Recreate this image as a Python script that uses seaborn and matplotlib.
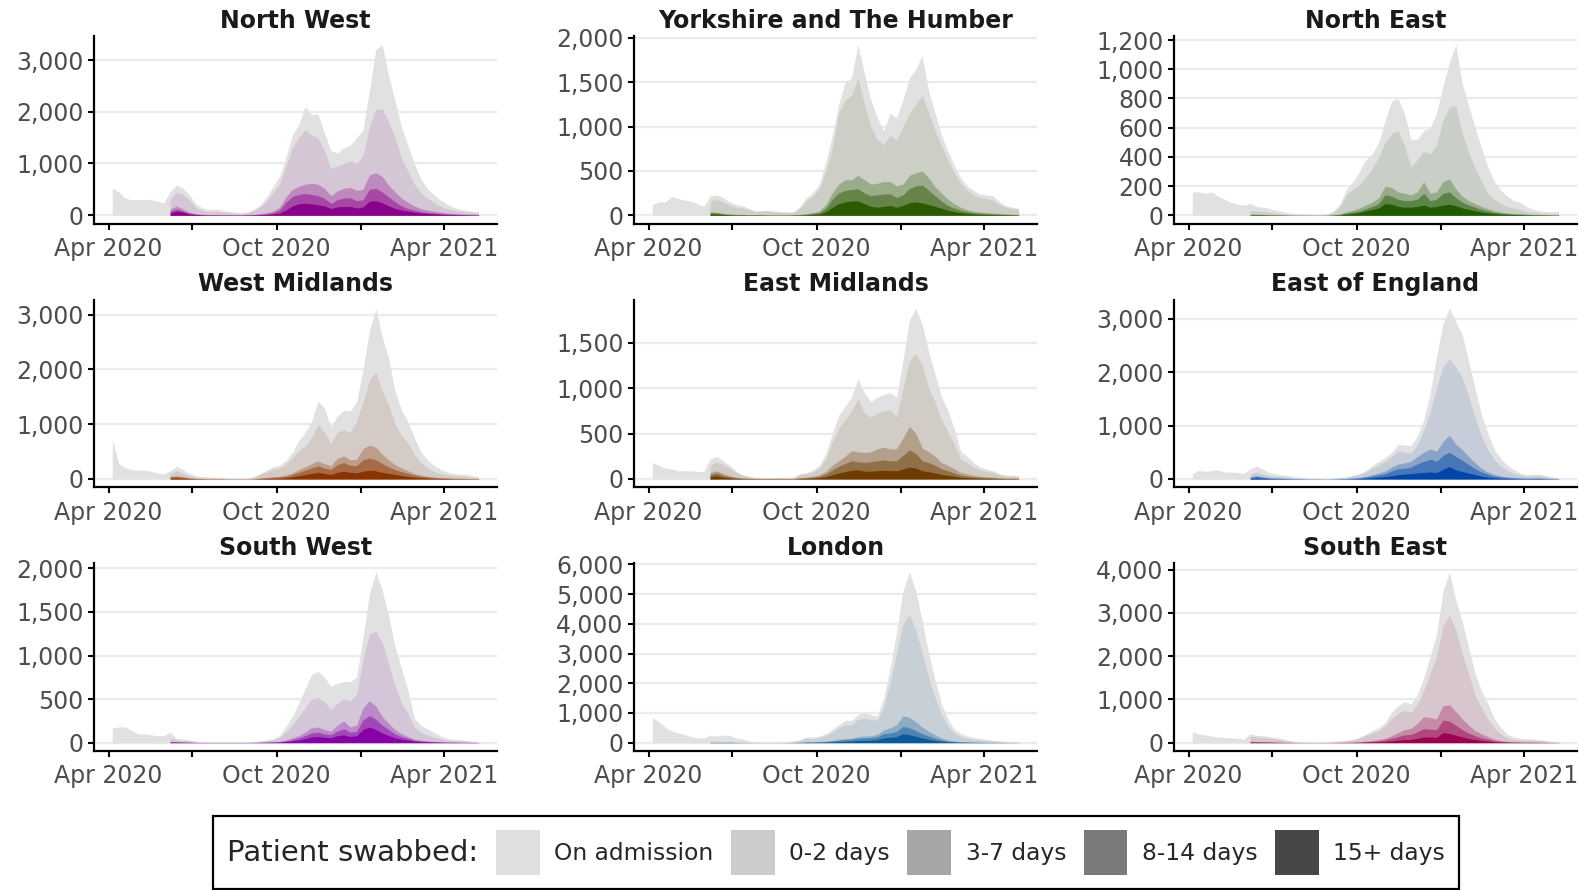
import numpy as np
import pandas as pd
import matplotlib
matplotlib.use("Agg")
import matplotlib.pyplot as plt
from matplotlib.patches import Patch
from matplotlib.ticker import FuncFormatter, MultipleLocator
from matplotlib.colors import to_rgb
import seaborn as sns

# Weekly readings of hospital-onset COVID-19 patients by region.
# Totals start 5 Apr 2020; the split by swab timing starts 7 Jun 2020.
# Each split array is the upper edge of its band (band + all bands below it).
WEEKS = pd.date_range("2020-04-05", periods=58, freq="7D")
SPLIT_WEEKS = pd.date_range("2020-06-07", periods=49, freq="7D")

NW_TOTAL = [530, 450, 330, 300, 300, 310, 300, 270, 240, 450, 580, 520, 390, 220, 140, 110, 120, 100, 80, 60,
            50, 60, 110, 200, 350, 550, 750, 1100, 1550, 1750, 2100, 1950, 1950, 1600, 1250, 1200, 1300, 1350, 1500, 1650,
            2400, 3200, 3300, 2700, 2200, 1700, 1350, 1000, 700, 520, 400, 300, 220, 160, 120, 100, 80, 70]
NW_D0_2 = [300, 450, 400, 300, 150, 90, 70, 80, 60, 50, 40, 30, 50, 90, 160, 280, 430, 600, 950, 1300,
           1500, 1650, 1550, 1500, 1250, 900, 950, 1000, 1050, 1000, 1150, 1700, 2050, 2050, 1800, 1500, 1100, 850, 600, 430,
           330, 250, 180, 130, 100, 80, 60, 50, 40]
NW_D3_7 = [120, 180, 120, 60, 30, 20, 15, 15, 10, 10, 10, 10, 15, 20, 30, 50, 80, 150, 350, 500,
           560, 600, 620, 600, 520, 380, 470, 520, 540, 480, 500, 780, 820, 750, 580, 450, 330, 250, 180, 130,
           100, 80, 60, 45, 35, 30, 25, 20, 15]
NW_D8_14 = [80, 120, 80, 40, 20, 12, 10, 10, 8, 8, 7, 7, 10, 12, 20, 30, 50, 100, 250, 360,
            400, 420, 400, 380, 330, 230, 300, 330, 340, 280, 300, 500, 520, 450, 350, 260, 180, 130, 100, 70,
            55, 45, 35, 25, 20, 15, 12, 10, 8]
NW_D15 = [40, 80, 60, 25, 15, 8, 6, 6, 5, 5, 4, 4, 6, 8, 12, 15, 25, 40, 100, 180,
          220, 230, 220, 200, 180, 130, 160, 170, 170, 140, 160, 270, 280, 240, 180, 130, 100, 80, 60, 45,
          35, 30, 20, 15, 12, 10, 8, 6, 5]

YH_TOTAL = [120, 150, 150, 210, 190, 170, 160, 130, 100, 220, 230, 200, 150, 120, 110, 80, 50, 55, 55, 50,
            40, 40, 40, 100, 200, 260, 350, 600, 900, 1250, 1500, 1550, 1925, 1600, 1300, 1100, 950, 1150, 1100, 1300,
            1550, 1650, 1800, 1400, 1150, 900, 720, 560, 420, 330, 280, 240, 230, 220, 150, 110, 90, 80]
YH_D0_2 = [160, 180, 150, 110, 90, 80, 60, 40, 45, 45, 40, 30, 30, 30, 80, 170, 220, 300, 500, 750,
           1150, 1300, 1350, 1550, 1250, 1000, 850, 800, 900, 850, 1000, 1150, 1250, 1350, 1150, 950, 780, 620, 480, 360,
           280, 230, 200, 190, 170, 120, 90, 75, 65]
YH_D3_7 = [40, 35, 20, 15, 10, 10, 8, 8, 8, 5, 5, 5, 5, 8, 10, 20, 30, 50, 120, 250,
           350, 400, 400, 450, 400, 350, 360, 380, 380, 330, 350, 450, 480, 500, 420, 320, 250, 180, 130, 90,
           60, 45, 35, 30, 25, 20, 15, 12, 10]
YH_D8_14 = [30, 25, 15, 10, 7, 7, 5, 5, 5, 3, 3, 3, 3, 5, 7, 12, 20, 30, 80, 180,
            250, 280, 290, 300, 250, 220, 230, 240, 240, 200, 230, 300, 330, 340, 280, 220, 160, 110, 80, 55,
            40, 30, 22, 18, 15, 12, 10, 8, 6]
YH_D15 = [15, 15, 10, 6, 4, 4, 3, 3, 3, 2, 2, 2, 2, 3, 4, 6, 10, 15, 40, 90,
          130, 150, 160, 160, 130, 100, 90, 100, 110, 90, 110, 140, 150, 140, 120, 100, 80, 55, 40, 30,
          22, 16, 12, 10, 8, 6, 5, 4, 3]

NE_TOTAL = [160, 160, 150, 160, 130, 110, 90, 75, 70, 80, 60, 55, 45, 35, 25, 15, 10, 10, 8, 5,
            5, 8, 30, 80, 180, 230, 300, 380, 420, 500, 650, 780, 800, 700, 520, 520, 580, 600, 700, 880,
            1050, 1170, 900, 750, 600, 460, 330, 230, 170, 130, 100, 90, 60, 40, 30, 25, 25, 25]
NE_D0_2 = [30, 30, 25, 20, 15, 10, 8, 6, 5, 5, 3, 3, 5, 20, 60, 140, 180, 210, 260, 320,
           400, 500, 560, 580, 480, 330, 380, 440, 420, 480, 650, 740, 750, 560, 430, 320, 230, 150, 110, 80,
           60, 50, 40, 25, 20, 15, 12, 10, 10]
NE_D3_7 = [8, 8, 6, 5, 4, 3, 2, 2, 2, 2, 1, 1, 2, 5, 10, 25, 35, 50, 70, 90,
           120, 200, 190, 160, 150, 140, 160, 230, 150, 160, 230, 250, 180, 130, 100, 80, 60, 45, 30, 22,
           16, 12, 10, 8, 6, 5, 4, 4, 3]
NE_D8_14 = [5, 5, 4, 3, 3, 2, 1, 1, 1, 1, 1, 1, 1, 3, 6, 15, 22, 30, 45, 60,
            80, 140, 130, 110, 100, 100, 110, 150, 100, 110, 150, 160, 120, 90, 70, 55, 40, 30, 20, 15,
            11, 8, 7, 5, 4, 3, 3, 2, 2]
NE_D15 = [2, 2, 2, 1, 1, 1, 1, 0, 0, 0, 0, 0, 0, 1, 3, 8, 12, 18, 30, 40,
          50, 80, 75, 60, 55, 55, 60, 70, 55, 60, 70, 75, 65, 50, 40, 30, 22, 16, 12, 8,
          6, 5, 4, 3, 2, 2, 1, 1, 1]

WM_TOTAL = [720, 280, 200, 170, 160, 160, 140, 110, 90, 150, 230, 170, 100, 60, 40, 35, 30, 25, 20, 15,
            10, 10, 40, 100, 160, 220, 250, 330, 480, 700, 850, 1050, 1420, 1300, 950, 1150, 1250, 1250, 1400, 2000,
            2700, 3120, 2600, 2200, 1600, 1250, 1050, 750, 500, 350, 250, 180, 130, 100, 90, 80, 60, 40]
WM_D0_2 = [100, 150, 100, 60, 35, 25, 20, 18, 15, 12, 10, 8, 8, 30, 80, 130, 180, 200, 270, 380,
           520, 600, 750, 1000, 850, 650, 850, 900, 850, 1050, 1400, 1800, 1950, 1600, 1350, 1000, 800, 650, 450, 300,
           200, 140, 100, 75, 60, 50, 45, 35, 25]
WM_D3_7 = [50, 60, 40, 20, 12, 8, 6, 5, 5, 4, 3, 3, 3, 8, 20, 30, 40, 50, 70, 110,
           170, 220, 280, 330, 280, 240, 380, 420, 350, 360, 550, 620, 580, 450, 350, 260, 200, 150, 100, 70,
           50, 35, 25, 20, 15, 12, 10, 8, 6]
WM_D8_14 = [35, 40, 30, 15, 8, 6, 5, 4, 4, 3, 2, 2, 2, 5, 12, 20, 28, 35, 50, 80,
            120, 160, 200, 240, 200, 170, 260, 300, 250, 240, 350, 380, 350, 280, 220, 170, 130, 100, 70, 50,
            35, 25, 18, 14, 10, 8, 7, 5, 4]
WM_D15 = [15, 20, 15, 8, 4, 3, 2, 2, 2, 1, 1, 1, 1, 2, 5, 8, 12, 15, 22, 40,
          60, 80, 100, 120, 100, 80, 120, 140, 120, 110, 140, 160, 150, 120, 100, 80, 60, 45, 30, 22,
          16, 12, 9, 7, 5, 4, 3, 3, 2]

EM_TOTAL = [180, 150, 120, 110, 90, 90, 90, 85, 80, 220, 250, 200, 150, 90, 50, 30, 20, 15, 15, 15,
            20, 15, 20, 60, 70, 100, 150, 280, 500, 700, 800, 900, 1100, 950, 850, 900, 930, 950, 900, 1300,
            1750, 1880, 1700, 1400, 1150, 900, 750, 550, 300, 250, 180, 130, 110, 90, 60, 40, 40, 35]
EM_D0_2 = [150, 190, 160, 120, 70, 40, 25, 15, 12, 12, 12, 15, 12, 15, 50, 55, 80, 120, 220, 400,
           560, 650, 750, 880, 730, 680, 720, 750, 760, 680, 1000, 1300, 1380, 1250, 1000, 850, 650, 520, 380, 220,
           180, 130, 100, 85, 70, 45, 30, 30, 25]
EM_D3_7 = [70, 90, 60, 35, 20, 12, 8, 6, 5, 5, 5, 6, 5, 6, 15, 20, 30, 45, 80, 150,
           200, 250, 310, 300, 290, 300, 330, 350, 330, 330, 450, 580, 500, 340, 300, 250, 180, 150, 110, 70,
           55, 40, 30, 25, 20, 14, 10, 10, 8]
EM_D8_14 = [50, 65, 40, 25, 14, 8, 6, 4, 4, 4, 4, 4, 4, 4, 10, 14, 20, 30, 55, 100,
            140, 170, 200, 190, 180, 190, 200, 210, 200, 200, 260, 320, 280, 200, 180, 150, 110, 90, 65, 40,
            32, 24, 18, 15, 12, 8, 6, 6, 5]
EM_D15 = [25, 35, 20, 12, 7, 4, 3, 2, 2, 2, 2, 2, 2, 2, 5, 7, 10, 15, 25, 45,
          65, 80, 95, 100, 85, 85, 90, 95, 90, 90, 110, 130, 120, 90, 80, 65, 50, 40, 30, 18,
          14, 10, 8, 6, 5, 4, 3, 3, 2]

EE_TOTAL = [100, 160, 140, 160, 170, 130, 130, 120, 100, 190, 240, 180, 120, 90, 80, 60, 40, 30, 20, 15,
            15, 10, 20, 30, 40, 70, 100, 160, 250, 330, 400, 500, 640, 640, 620, 800, 1100, 1600, 2300, 2900,
            3200, 2950, 2700, 2200, 1700, 1200, 850, 550, 380, 260, 180, 110, 80, 90, 90, 60, 40, 20]
EE_D0_2 = [90, 130, 90, 60, 45, 40, 30, 20, 15, 10, 8, 8, 5, 10, 20, 30, 55, 80, 130, 200,
           260, 330, 420, 520, 500, 480, 640, 900, 1250, 1700, 2100, 2250, 2100, 1900, 1550, 1150, 800, 550, 360, 240,
           160, 110, 70, 50, 60, 60, 40, 25, 12]
EE_D3_7 = [40, 65, 40, 25, 18, 15, 10, 7, 5, 4, 3, 3, 2, 4, 7, 10, 18, 30, 50, 80,
           110, 150, 220, 280, 300, 330, 420, 500, 560, 520, 700, 820, 650, 550, 420, 300, 200, 130, 85, 55,
           40, 28, 20, 15, 18, 18, 12, 8, 5]
EE_D8_14 = [25, 45, 28, 17, 12, 10, 7, 5, 4, 3, 2, 2, 1, 3, 5, 7, 12, 20, 35, 55,
            75, 100, 150, 190, 200, 220, 280, 330, 370, 330, 440, 500, 420, 350, 270, 190, 130, 85, 55, 35,
            25, 18, 13, 10, 12, 12, 8, 5, 3]
EE_D15 = [10, 20, 12, 7, 5, 4, 3, 2, 2, 1, 1, 1, 1, 1, 2, 3, 5, 8, 15, 25,
          35, 45, 60, 80, 90, 100, 110, 120, 130, 120, 180, 230, 170, 140, 110, 80, 50, 32, 20, 14,
          10, 7, 5, 4, 5, 5, 3, 2, 1]

SW_TOTAL = [170, 180, 180, 140, 100, 100, 90, 80, 80, 120, 50, 40, 30, 15, 10, 10, 8, 8, 8, 8,
            8, 8, 12, 20, 30, 45, 80, 180, 300, 450, 620, 780, 820, 750, 650, 680, 700, 700, 750, 1200,
            1700, 1960, 1750, 1450, 1100, 850, 600, 280, 200, 160, 120, 80, 50, 40, 35, 25, 15, 10]
SW_D0_2 = [60, 30, 25, 20, 10, 6, 5, 5, 5, 5, 5, 5, 5, 8, 15, 22, 35, 60, 120, 200,
           300, 400, 500, 520, 470, 380, 450, 500, 480, 550, 950, 1250, 1280, 1150, 900, 650, 450, 330, 180, 120,
           90, 65, 45, 30, 25, 20, 15, 10, 6]
SW_D3_7 = [15, 10, 8, 6, 3, 2, 2, 2, 2, 2, 2, 2, 2, 3, 5, 7, 10, 15, 30, 55,
           80, 120, 170, 180, 150, 130, 200, 250, 180, 200, 400, 480, 420, 300, 220, 150, 100, 70, 40, 28,
           20, 15, 10, 7, 6, 5, 4, 3, 2]
SW_D8_14 = [10, 7, 5, 4, 2, 1, 1, 1, 1, 1, 1, 1, 1, 2, 3, 5, 7, 10, 20, 35,
            55, 80, 110, 120, 100, 90, 130, 160, 120, 130, 260, 310, 270, 200, 150, 100, 70, 50, 28, 20,
            14, 10, 7, 5, 4, 3, 3, 2, 1]
SW_D15 = [5, 4, 3, 2, 1, 1, 1, 1, 1, 1, 1, 1, 1, 1, 2, 3, 4, 6, 12, 20,
          30, 45, 65, 70, 60, 55, 80, 90, 70, 80, 150, 180, 150, 110, 80, 55, 40, 28, 16, 11,
          8, 6, 4, 3, 2, 2, 1, 1, 1]

LN_TOTAL = [850, 700, 520, 400, 330, 280, 200, 170, 150, 250, 220, 250, 250, 150, 120, 60, 30, 20, 15, 20,
            20, 30, 60, 100, 200, 180, 220, 300, 450, 600, 750, 750, 950, 1000, 950, 900, 1500, 2500, 3700, 5100,
            5750, 5100, 4100, 3000, 2100, 1300, 800, 450, 300, 220, 170, 140, 110, 80, 60, 40, 30, 20]
LN_D0_2 = [60, 40, 40, 40, 30, 20, 10, 8, 6, 5, 6, 6, 10, 30, 70, 150, 130, 170, 240, 350,
           500, 600, 600, 780, 820, 780, 750, 1200, 2000, 3000, 4000, 4300, 3800, 3000, 2200, 1500, 950, 550, 320, 200,
           150, 110, 90, 70, 50, 40, 25, 20, 12]
LN_D3_7 = [10, 10, 10, 10, 8, 5, 3, 2, 2, 2, 2, 2, 3, 6, 12, 25, 25, 35, 50, 75,
           110, 140, 150, 200, 220, 230, 280, 420, 500, 600, 900, 850, 700, 520, 380, 260, 160, 90, 55, 35,
           25, 20, 15, 12, 9, 7, 5, 4, 3]
LN_D8_14 = [7, 7, 7, 7, 5, 3, 2, 1, 1, 1, 1, 1, 2, 4, 8, 18, 18, 25, 35, 55,
            80, 100, 110, 150, 160, 170, 200, 300, 330, 380, 550, 500, 400, 300, 220, 150, 95, 55, 33, 22,
            16, 12, 9, 7, 5, 4, 3, 2, 2]
LN_D15 = [3, 3, 3, 3, 2, 1, 1, 1, 0, 0, 0, 0, 1, 2, 4, 8, 8, 12, 16, 25,
          35, 45, 50, 70, 75, 80, 100, 160, 180, 200, 300, 270, 210, 160, 110, 75, 45, 27, 16, 10,
          7, 5, 4, 3, 2, 2, 1, 1, 1]

SE_TOTAL = [250, 200, 180, 150, 130, 120, 110, 100, 80, 200, 170, 160, 140, 120, 90, 50, 30, 20, 15, 15,
            20, 20, 30, 40, 50, 80, 130, 200, 270, 350, 470, 700, 850, 950, 900, 1100, 1500, 2000, 2500, 3500,
            3950, 3300, 2800, 2200, 1600, 1200, 900, 550, 350, 200, 130, 100, 90, 80, 70, 50, 30, 20]
SE_D0_2 = [150, 130, 120, 100, 80, 60, 35, 20, 15, 10, 10, 12, 12, 20, 30, 40, 60, 100, 160, 220,
           280, 380, 560, 680, 750, 700, 880, 1200, 1600, 2000, 2700, 2950, 2600, 2050, 1600, 1100, 800, 550, 330, 200,
           120, 80, 60, 55, 50, 40, 30, 18, 10]
SE_D3_7 = [30, 25, 22, 18, 14, 10, 6, 4, 3, 2, 2, 2, 2, 4, 6, 8, 12, 20, 35, 50,
           70, 100, 160, 230, 300, 330, 440, 600, 580, 550, 850, 880, 720, 550, 400, 280, 200, 140, 80, 50,
           30, 20, 15, 13, 12, 10, 7, 4, 3]
SE_D8_14 = [20, 17, 15, 12, 9, 6, 4, 3, 2, 1, 1, 1, 1, 2, 4, 5, 8, 13, 22, 32,
            45, 65, 100, 140, 180, 190, 250, 320, 310, 300, 520, 500, 400, 300, 220, 160, 110, 80, 45, 28,
            17, 12, 9, 8, 7, 6, 4, 2, 2]
SE_D15 = [10, 8, 7, 6, 4, 3, 2, 1, 1, 1, 1, 1, 1, 1, 2, 2, 3, 5, 9, 13,
          18, 25, 40, 55, 70, 75, 100, 130, 130, 120, 230, 210, 170, 130, 95, 70, 50, 35, 20, 12,
          8, 5, 4, 3, 3, 2, 2, 1, 1]

REGIONS = ["North West", "Yorkshire and The Humber", "North East",
           "West Midlands", "East Midlands", "East of England",
           "South West", "London", "South East"]
TOTALS = [NW_TOTAL, YH_TOTAL, NE_TOTAL, WM_TOTAL, EM_TOTAL, EE_TOTAL, SW_TOTAL, LN_TOTAL, SE_TOTAL]
SPLITS = [
    [NW_D0_2, NW_D3_7, NW_D8_14, NW_D15],
    [YH_D0_2, YH_D3_7, YH_D8_14, YH_D15],
    [NE_D0_2, NE_D3_7, NE_D8_14, NE_D15],
    [WM_D0_2, WM_D3_7, WM_D8_14, WM_D15],
    [EM_D0_2, EM_D3_7, EM_D8_14, EM_D15],
    [EE_D0_2, EE_D3_7, EE_D8_14, EE_D15],
    [SW_D0_2, SW_D3_7, SW_D8_14, SW_D15],
    [LN_D0_2, LN_D3_7, LN_D8_14, LN_D15],
    [SE_D0_2, SE_D3_7, SE_D8_14, SE_D15],
]
BASE_COLORS = ["#8b008b", "#2d5a00", "#215a00", "#8b3300", "#6e3c00",
               "#0046a8", "#8600a6", "#0a5a9c", "#9b0050"]
Y_STEPS = [1000, 500, 200, 1000, 500, 1000, 500, 1000, 1000]

LEGEND_LABELS = ["On admission", "0-2 days", "3-7 days", "8-14 days", "15+ days"]
LEGEND_COLORS = ["#e0e0e0", "#cccccc", "#a6a6a6", "#7a7a7a", "#474747"]

TICK_DATES = pd.to_datetime(["2020-04-01", "2020-07-01", "2020-10-01", "2021-01-01", "2021-04-01"])
TICK_LABELS = ["Apr 2020", "", "Oct 2020", "", "Apr 2021"]

GREY = "#e1e1e1"
BAND_MIX = [0.11, 0.38, 0.68, 1.0]


def shade(color, frac, bg="#dedede"):
    c = np.array(to_rgb(color))
    b = np.array(to_rgb(bg))
    return tuple(frac * c + (1 - frac) * b)


sns.set_theme(style="white")
plt.rcParams["font.family"] = ["DejaVu Sans"]

fig, axes = plt.subplots(3, 3, figsize=(15.79, 8.9), dpi=100)
fig.subplots_adjust(left=0.0595, right=0.9987, top=0.9596, bottom=0.156,
                    wspace=0.34, hspace=0.404)

span = WEEKS[-1] - WEEKS[0]
for ax, name, total, split, base, step in zip(axes.flat, REGIONS, TOTALS, SPLITS, BASE_COLORS, Y_STEPS):
    ax.fill_between(WEEKS, 0, total, color=GREY, lw=0)
    for band, mix in zip(split, BAND_MIX):
        ax.fill_between(SPLIT_WEEKS, 0, band, color=shade(base, mix), lw=0)

    top = max(total)
    ax.set_ylim(-0.05 * top, 1.05 * top)
    ax.set_xlim(WEEKS[0] - 0.05 * span, WEEKS[-1] + 0.05 * span)
    ax.yaxis.set_major_locator(MultipleLocator(step))
    ax.yaxis.set_major_formatter(FuncFormatter(lambda v, p: f"{v:,.0f}"))
    ax.set_xticks(TICK_DATES)
    ax.set_xticklabels(TICK_LABELS)

    ax.set_axisbelow(True)
    ax.yaxis.grid(True, color="#ebebeb", lw=1.6)
    ax.xaxis.grid(False)
    sns.despine(ax=ax)
    for side in ("left", "bottom"):
        ax.spines[side].set_color("black")
        ax.spines[side].set_linewidth(1.6)
    ax.tick_params(axis="both", length=4.5, width=1.5, color="black",
                   labelsize=17, labelcolor="#4d4d4d", pad=3, bottom=True, left=True)
    ax.tick_params(axis="x", pad=5)
    ax.set_title(name, fontsize=17, fontweight="bold", color="#1a1a1a", pad=6)
    ax.set_xlabel("")
    ax.set_ylabel("")

handles = [Patch(facecolor=c, edgecolor="none", label=l) for c, l in zip(LEGEND_COLORS, LEGEND_LABELS)]
leg = fig.legend(handles=handles, loc="center", bbox_to_anchor=(0.5295, 0.042), ncol=5,
                 title="Patient swabbed:", title_fontsize=21, fontsize=16.8,
                 frameon=True, fancybox=False, edgecolor="black", framealpha=1,
                 handlelength=1.88, handleheight=2.55, handletextpad=0.62,
                 columnspacing=0.75, borderpad=0.6)
leg.get_frame().set_linewidth(1.6)

# title to the left of the keys
box = leg._legend_box
title_box, handle_box = box.get_children()
box._children = [handle_box]
handle_box._children.insert(0, title_box)
handle_box.align = "center"

fig.savefig("out.png", dpi=100)
